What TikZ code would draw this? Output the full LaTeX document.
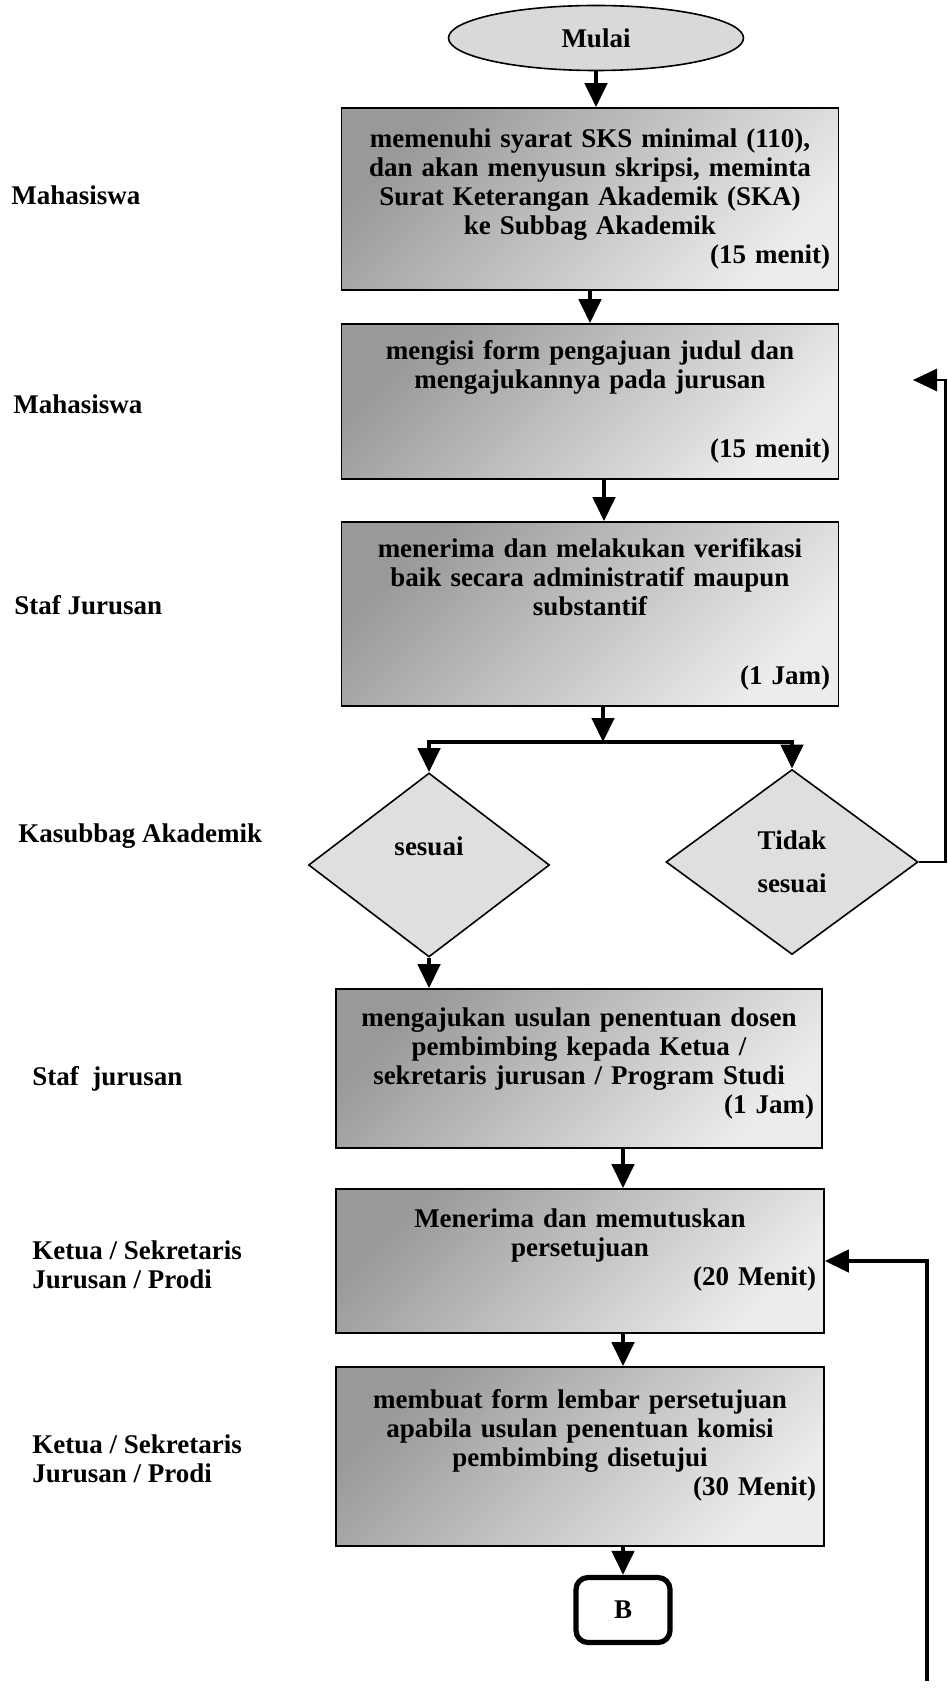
\documentclass[tikz,border=0pt]{standalone}
\usepackage{fontspec}
\setmainfont{Liberation Serif}
\usetikzlibrary{shapes.geometric,arrows.meta}
\newcommand{\waktu}[2][0pt]{\\[#1]\hspace*{0pt plus 1filll}#2}

\begin{document}
\begin{tikzpicture}[x=0.5pt,y=-0.5pt]
\tikzstyle{every node}+=[font=\fontsize{13.5}{14.5}\selectfont\bfseries]
\tikzstyle{proses}=[draw=black, line width=0.8pt, minimum width=248.5pt, text width=240pt, align=center, inner sep=4pt, top color=gray!80, bottom color=gray!15, shading angle=45]
\tikzstyle{pilihan}=[diamond, draw=black, line width=0.8pt, fill=gray!25, inner sep=0pt, align=center]
\tikzstyle{pelaku}=[anchor=west, align=left, inner sep=0pt]
\tikzstyle{alur}=[line width=2.2pt, -{Triangle[width=11pt,length=12pt]}]
\useasboundingbox (0,0) rectangle (947,1695);
% pelaku
\node[pelaku] (p1) at (11,195) {Mahasiswa};
\node[pelaku] (p2) at (13,404) {Mahasiswa};
\node[pelaku] (p3) at (14,605) {Staf Jurusan};
\node[pelaku] (p4) at (18,836) {Kasubbag Akademik};
\node[pelaku] (p5) at (32,1079) {Staf\ \ jurusan};
\node[pelaku] (p6) at (32,1265) {Ketua / Sekretaris\\ Jurusan / Prodi};
\node[pelaku] (p7) at (32,1459) {Ketua / Sekretaris\\ Jurusan / Prodi};
% alur
\node[ellipse, draw=black, line width=0.8pt, fill=gray!30, minimum width=147.5pt, minimum height=32.5pt, inner sep=0pt] (mulai) at (596,38) {Mulai};
\node[proses, minimum height=91pt] (box1) at (590,199) {memenuhi syarat SKS minimal (110),\\ dan akan menyusun skripsi, meminta\\ Surat Keterangan Akademik (SKA)\\ ke Subbag Akademik\waktu{(15 menit)}};
\node[proses, minimum height=77.5pt] (box2) at (590,401.5) {mengisi form pengajuan judul dan\\ mengajukannya pada jurusan\waktu[20pt]{(15 menit)}};
\node[proses, minimum height=92pt] (box3) at (590,614) {menerima dan melakukan verifikasi\\ baik secara administratif maupun\\ substantif\waktu[20pt]{(1 Jam)}};
\node[pilihan, minimum width=120.5pt, minimum height=92pt] (dL) at (429,865) {\raisebox{5pt}[0pt][0pt]{sesuai}};
\node[pilihan, minimum width=126pt, minimum height=92.5pt] (dR) at (792,862) {Tidak\\[7pt] sesuai};
\node[proses, minimum width=243pt, text width=235pt, minimum height=79.5pt] (box4) at (579,1068.5) {mengajukan usulan penentuan dosen\\ pembimbing kepada Ketua /\\ sekretaris jurusan / Program Studi\waktu{(1 Jam)\rule[-8pt]{0pt}{1pt}}};
\node[proses, minimum width=244pt, text width=236pt, minimum height=72pt] (box5) at (580,1261) {Menerima dan memutuskan\\ persetujuan\waktu{(20 Menit)\rule[-14pt]{0pt}{1pt}}};
\node[proses, minimum width=244pt, text width=236pt, minimum height=89.5pt] (box6) at (580,1456.5) {membuat form lembar persetujuan\\ apabila usulan penentuan komisi\\ pembimbing disetujui\waktu{(30 Menit)\rule[-14pt]{0pt}{1pt}}};
\node[draw=black, line width=2.6pt, rounded corners=6pt, fill=white, minimum width=47pt, minimum height=32.5pt] (B) at (623,1610) {B};
\coordinate (cabang) at (603,742);
\coordinate (balik1) at (913,380);
\coordinate (balik2) at (927,1681);
\draw[alur] (mulai.south) -- (mulai.south |- box1.north);
\draw[alur] (box1.south) -- (box2.north);
\draw[alur] ([xshift=7pt]box2.south) -- ([xshift=7pt]box2.south |- box3.north);
\draw[alur] (box3.south -| cabang) -- (cabang);
\draw[alur] (cabang) -| (dL.north);
\draw[alur] (cabang) -| (dR.north);
\draw[alur] (dL.south) -- (dL.south |- box4.north);
\draw[alur, line width=1.4pt] (dR.east) -- ++(27,0) |- (balik1);
\draw[alur] (box4.south -| B) -- (box5.north -| B);
\draw[alur] (box5.south -| B) -- (box6.north -| B);
\draw[alur] (box6.south -| B) -- (B.north);
\draw[alur] (balik2) |- (box5.east);
\end{tikzpicture}
\end{document}
